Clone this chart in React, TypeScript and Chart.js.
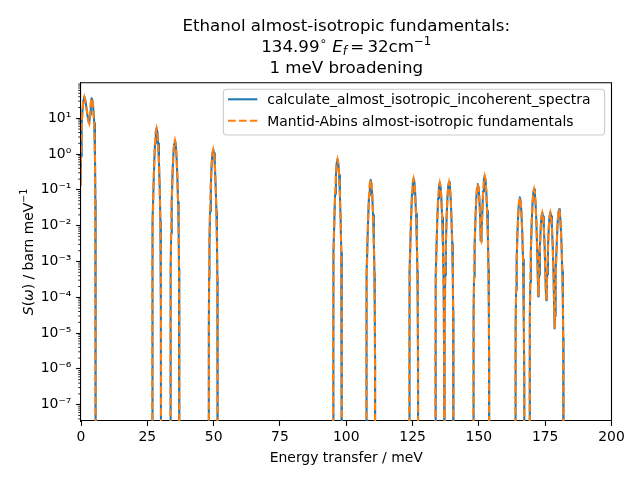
import React, { useEffect, useRef } from 'react';
import { Chart, registerables } from 'chart.js';

Chart.register(...registerables);

// values
const titleTop = 'Ethanol almost-isotropic fundamentals:';
const titleBottom = '1 meV broadening';
const legendLabels = [
  'calculate_almost_isotropic_incoherent_spectra',
  'Mantid-Abins almost-isotropic fundamentals',
];
const xTicks = [0, 25, 50, 75, 100, 125, 150, 175, 200];
const yTicks = [1e-7, 1e-6, 1e-5, 1e-4, 1e-3, 1e-2, 1e-1, 1e0, 1e1];
const yMinorMantissas = [2, 3, 4, 5, 6, 7, 8, 9];
const yMin = 3.5e-8;
const yMax = 98.6;

// energy transfer / meV (each line is one peak or group of peaks)
const energy = [
  -0.4, -0.4, -0.15, 0, 0.25, 0.55, 0.9, 1.25, 1.6, 2.0, 2.4, 2.8, 3.1, 3.4, 3.7, 4.0, 4.3, 4.6, 5.0, 5.27, 5.42, 5.5, 5.55,
  26.82, 26.85, 26.95, 27.08, 27.3, 27.6, 27.9, 28.2, 28.5, 28.8, 29.1, 29.4, 29.7, 29.92, 30.05, 30.15, 30.18,
  33.72, 33.75, 33.85, 33.98, 34.2, 34.5, 34.8, 35.1, 35.4, 35.7, 36.0, 36.3, 36.6, 36.82, 36.95, 37.05, 37.08,
  48.17, 48.2, 48.3, 48.43, 48.65, 48.95, 49.25, 49.55, 49.85, 50.15, 50.45, 50.75, 51.05, 51.27, 51.4, 51.5, 51.53,
  95.02, 95.05, 95.15, 95.28, 95.5, 95.8, 96.1, 96.4, 96.7, 97.0, 97.3, 97.6, 97.9, 98.12, 98.25, 98.35, 98.38,
  107.52, 107.55, 107.65, 107.78, 108.0, 108.3, 108.6, 108.9, 109.2, 109.5, 109.8, 110.1, 110.4, 110.62, 110.75, 110.85, 110.88,
  123.72, 123.75, 123.85, 123.98, 124.2, 124.5, 124.8, 125.1, 125.4, 125.7, 126.0, 126.3, 126.6, 126.82, 126.95, 127.05, 127.08,
  133.57, 133.6, 133.7, 133.83, 134.05, 134.35, 134.65, 134.95, 135.25, 135.55, 135.85, 136.15, 136.45, 136.67, 136.8, 136.9, 136.93,
  137.07, 137.1, 137.2, 137.33, 137.55, 137.85, 138.15, 138.45, 138.75, 139.05, 139.35, 139.65, 139.95, 140.17, 140.3, 140.4, 140.43,
  147.92, 147.95, 148.05, 148.18, 148.4, 148.7, 149.0, 149.3, 149.6, 149.9, 150.2, 150.5, 150.55, 150.8,
  150.9, 151.0, 151.25, 151.6, 151.9, 152.2, 152.5, 152.8, 153.1, 153.4, 153.62, 153.75, 153.85, 153.88,
  163.77, 163.8, 163.9, 164.03, 164.25, 164.55, 164.85, 165.15, 165.45, 165.75, 166.05, 166.35, 166.65, 166.87, 167.0, 167.1, 167.13,
  169.12, 169.15, 169.25, 169.38, 169.6, 169.9, 170.2, 170.5, 170.8, 171.1, 171.4, 171.7, 172.0, 172.22, 172.4, 172.55, 172.7, 173.0,
  173.3, 173.6, 173.9, 174.2, 174.5, 174.8, 175.1, 175.28, 175.42, 175.57, 175.75, 176.05, 176.35, 176.65, 176.95, 177.25, 177.55,
  177.85, 178.15, 178.37, 178.5, 178.6, 178.7, 178.83, 179.05, 179.35, 179.65, 179.95, 180.25, 180.55, 180.85, 181.15, 181.45,
  181.67, 181.8, 181.9, 181.93,
];

// S(w) / barn meV^-1, same order as energy
const sqw = [
  1e-12, 0.021, 0.13, 0.85, 7.2, 15.8, 30.2, 39.8, 33.1, 20.9, 12.6, 8.32, 7.24, 12.6, 26.3, 36.3, 31.6, 20.0, 7.24, 0.85, 0.05, 1.5e-3, 1e-12,
  1e-12, 5.25e-5, 1.32e-3, 1.32e-2, 9.82e-2, 0.56, 1.94, 4.09, 5.25, 4.09, 1.94, 0.56, 9.82e-2, 1.32e-2, 1.32e-3, 5.25e-5, 1e-12,
  1e-12, 2.46e-5, 6.17e-4, 6.17e-3, 4.59e-2, 0.262, 0.908, 1.914, 2.455, 1.914, 0.908, 0.262, 4.59e-2, 6.17e-3, 6.17e-4, 2.46e-5, 1e-12,
  1e-12, 1.35e-5, 3.39e-4, 3.39e-3, 2.52e-2, 0.144, 0.499, 1.052, 1.349, 1.052, 0.499, 0.144, 2.52e-2, 3.39e-3, 3.39e-4, 1.35e-5, 1e-12,
  1e-12, 7.16e-6, 1.8e-4, 1.8e-3, 1.34e-2, 7.64e-2, 0.265, 0.558, 0.716, 0.558, 0.265, 7.64e-2, 1.34e-2, 1.8e-3, 1.8e-4, 7.16e-6, 1e-12,
  1e-12, 1.9e-6, 4.79e-5, 4.79e-4, 3.56e-3, 2.03e-2, 7.04e-2, 0.1486, 0.1905, 0.1486, 7.04e-2, 2.03e-2, 3.56e-3, 4.79e-4, 4.79e-5, 1.9e-6, 1e-12,
  1e-12, 2.09e-6, 5.25e-5, 5.25e-4, 3.91e-3, 2.23e-2, 7.73e-2, 0.163, 0.209, 0.163, 7.73e-2, 2.23e-2, 3.91e-3, 5.25e-4, 5.25e-5, 2.09e-6, 1e-12,
  1e-12, 1.59e-6, 3.98e-5, 3.98e-4, 2.97e-3, 1.69e-2, 5.86e-2, 0.1236, 0.1585, 0.1236, 5.86e-2, 1.69e-2, 2.97e-3, 3.98e-4, 3.98e-5, 1.59e-6, 1e-12,
  1e-12, 1.66e-6, 4.17e-5, 4.17e-4, 3.11e-3, 1.77e-2, 6.14e-2, 0.1294, 0.166, 0.1294, 6.14e-2, 1.77e-2, 3.11e-3, 4.17e-4, 4.17e-5, 1.66e-6, 1e-12,
  1e-12, 1.45e-6, 3.63e-5, 3.63e-4, 2.7e-3, 1.54e-2, 5.34e-2, 0.1127, 0.1445, 0.1127, 5.34e-2, 1.54e-2, 1.21e-2, 3.79e-3,
  3.66e-3, 5.24e-3, 2.04e-2, 9.08e-2, 0.1914, 0.2455, 0.1914, 9.08e-2, 2.62e-2, 4.59e-3, 6.17e-4, 6.17e-5, 2.46e-6, 1e-12,
  1e-12, 6.17e-7, 1.55e-5, 1.55e-4, 1.16e-3, 6.58e-3, 2.28e-2, 4.81e-2, 6.17e-2, 4.81e-2, 2.28e-2, 6.58e-3, 1.16e-3, 1.55e-4, 1.55e-5, 6.17e-7, 1e-12,
  1e-12, 1.05e-6, 2.63e-5, 2.63e-4, 1.96e-3, 1.12e-2, 3.87e-2, 8.16e-2, 0.1047, 8.16e-2, 3.87e-2, 1.12e-2, 1.96e-3, 3.5e-4, 1.05e-4, 1.6e-4, 4.28e-4, 2.44e-3,
  8.47e-3, 1.79e-2, 2.29e-2, 1.79e-2, 8.47e-3, 2.44e-3, 4.28e-4, 1.3e-4, 8.3e-5, 1.3e-4, 4.38e-4, 2.5e-3, 8.67e-3, 1.83e-2, 2.34e-2, 1.83e-2, 8.67e-3,
  2.5e-3, 4.38e-4, 5.9e-5, 2.5e-5, 1.35e-5, 3.0e-5, 7.24e-5, 5.39e-4, 3.08e-3, 1.07e-2, 2.25e-2, 2.88e-2, 2.25e-2, 1.07e-2, 3.08e-3, 5.39e-4,
  7.24e-5, 7.24e-6, 2.88e-7, 1e-12,
];

const FAMILY = '"DejaVu Sans", sans-serif';
const BLUE = '#1f77b4';
const ORANGE = '#ff7f0e';
const DASH = [7.7, 3.3];

type Run = { t: string; size: number; italic?: boolean; dy?: number };

const fontOf = (r: Run) => `${r.italic ? 'italic ' : ''}${r.size}px ${FAMILY}`;

function runsWidth(ctx: CanvasRenderingContext2D, runs: Run[]) {
  let w = 0;
  for (const r of runs) {
    ctx.font = fontOf(r);
    w += ctx.measureText(r.t).width;
  }
  return w;
}

function drawRuns(ctx: CanvasRenderingContext2D, runs: Run[], cx: number, baseline: number) {
  let x = cx - runsWidth(ctx, runs) / 2;
  ctx.textAlign = 'left';
  ctx.textBaseline = 'alphabetic';
  for (const r of runs) {
    ctx.font = fontOf(r);
    ctx.fillText(r.t, x, baseline + (r.dy || 0));
    x += ctx.measureText(r.t).width;
  }
}

const SUP: Record<string, string> = {
  '-': '\u207b', '0': '\u2070', '1': '\u00b9', '2': '\u00b2', '3': '\u00b3',
  '4': '\u2074', '5': '\u2075', '6': '\u2076', '7': '\u2077', '8': '\u2078', '9': '\u2079',
};
const powerLabel = (v: number) =>
  '10' + String(Math.round(Math.log10(v))).split('').map(c => SUP[c]).join('');

const overlay = {
  id: 'overlay',
  afterDraw(chart: Chart) {
    const { ctx, chartArea: a } = chart;
    const yScale = chart.scales.y;
    ctx.save();
    ctx.fillStyle = '#000';
    ctx.strokeStyle = '#000';

    // top and right spines
    ctx.lineWidth = 1.1;
    ctx.beginPath();
    ctx.moveTo(a.left, a.top);
    ctx.lineTo(a.right, a.top);
    ctx.lineTo(a.right, a.bottom);
    ctx.stroke();

    // minor log ticks
    ctx.lineWidth = 0.83;
    for (let n = -8; n <= 1; n++) {
      for (const m of yMinorMantissas) {
        const v = m * Math.pow(10, n);
        if (v < yMin || v > yMax) continue;
        const y = yScale.getPixelForValue(v);
        ctx.beginPath();
        ctx.moveTo(a.left - 2.8, y);
        ctx.lineTo(a.left, y);
        ctx.stroke();
      }
    }

    const cx = (a.left + a.right) / 2;

    // title
    drawRuns(ctx, [{ t: titleTop, size: 16.67 }], cx, 30.7);
    drawRuns(ctx, [
      { t: '134.99', size: 16.67 },
      { t: '\u2218', size: 11.7, dy: -7.5 },
      { t: ' ', size: 16.67 },
      { t: 'E', size: 16.67, italic: true },
      { t: 'f', size: 11.7, italic: true, dy: 3 },
      { t: '\u2009=\u2009', size: 16.67 },
      { t: '32cm', size: 16.67 },
      { t: '\u22121', size: 11.7, dy: -7.5 },
    ], cx, 52.3);
    drawRuns(ctx, [{ t: titleBottom, size: 16.67 }], cx, 73.3);

    // axis titles
    drawRuns(ctx, [{ t: 'Energy transfer / meV', size: 13.9 }], cx, 461.5);
    ctx.save();
    ctx.translate(32.5, (a.top + a.bottom) / 2);
    ctx.rotate(-Math.PI / 2);
    drawRuns(ctx, [
      { t: 'S', size: 13.9, italic: true },
      { t: '(', size: 13.9 },
      { t: '\u03c9', size: 13.9, italic: true },
      { t: ') / barn meV', size: 13.9 },
      { t: '\u22121', size: 9.7, dy: -5.5 },
    ], 0, 0);
    ctx.restore();

    // legend
    const bx = 223.3, by = 89.3, bw = 604.6 - 223.3, bh = 135 - 89.3;
    ctx.beginPath();
    ctx.roundRect(bx, by, bw, bh, 3.5);
    ctx.fillStyle = 'rgba(255,255,255,0.8)';
    ctx.fill();
    ctx.strokeStyle = '#cccccc';
    ctx.lineWidth = 1.1;
    ctx.stroke();

    const rows = [99.3, 120.7];
    ctx.lineWidth = 2.08;
    ctx.strokeStyle = BLUE;
    ctx.beginPath();
    ctx.moveTo(228, rows[0]);
    ctx.lineTo(257.3, rows[0]);
    ctx.stroke();
    ctx.strokeStyle = ORANGE;
    ctx.setLineDash(DASH);
    ctx.beginPath();
    ctx.moveTo(228, rows[1]);
    ctx.lineTo(257.3, rows[1]);
    ctx.stroke();
    ctx.setLineDash([]);

    ctx.fillStyle = '#000';
    ctx.font = `13.9px ${FAMILY}`;
    ctx.textAlign = 'left';
    ctx.textBaseline = 'alphabetic';
    legendLabels.forEach((label, i) => ctx.fillText(label, 267.3, rows[i] + 4.8));

    ctx.restore();
  },
};

export default function App() {
  const canvasRef = useRef<HTMLCanvasElement>(null);

  useEffect(() => {
    document.body.style.margin = '0';
    if (!canvasRef.current) return;

    const points = energy.map((x, i) => ({ x, y: sqw[i] }));
    const tickFont = { family: FAMILY, size: 13.9 };

    const chart = new Chart(canvasRef.current, {
      type: 'line',
      data: {
        datasets: [
          {
            label: legendLabels[1],
            data: points,
            borderColor: ORANGE,
            borderWidth: 2.08,
            borderDash: DASH,
            pointRadius: 0,
            tension: 0,
            fill: false,
            clip: 0,
          },
          {
            label: legendLabels[0],
            data: points,
            borderColor: BLUE,
            borderWidth: 2.08,
            borderJoinStyle: 'round',
            pointRadius: 0,
            tension: 0,
            fill: false,
            clip: 0,
          },
        ],
      },
      options: {
        responsive: false,
        animation: false,
        events: [],
        layout: { padding: { top: 82.7, right: 28.5, left: 0, bottom: 0 } },
        plugins: {
          legend: { display: false },
          title: { display: false },
          tooltip: { enabled: false },
        },
        scales: {
          x: {
            type: 'linear',
            min: 0,
            max: 200,
            afterBuildTicks: (s: any) => { s.ticks = xTicks.map(value => ({ value })); },
            afterFit: (s: any) => { s.height = 59; },
            ticks: { font: tickFont, color: '#000', padding: 3.5, maxRotation: 0, autoSkip: false },
            grid: { drawOnChartArea: false, drawTicks: true, tickLength: 4.86, tickColor: '#000', tickWidth: 1.1 },
            border: { display: true, color: '#000', width: 1.1 },
          },
          y: {
            type: 'logarithmic',
            min: yMin,
            max: yMax,
            afterBuildTicks: (s: any) => { s.ticks = yTicks.map(value => ({ value })); },
            afterFit: (s: any) => { s.width = 81; },
            ticks: {
              font: tickFont,
              color: '#000',
              padding: 4.86,
              autoSkip: false,
              callback: (v: any) => powerLabel(Number(v)),
            },
            grid: { drawOnChartArea: false, drawTicks: true, tickLength: 4.86, tickColor: '#000', tickWidth: 1.1 },
            border: { display: true, color: '#000', width: 1.1 },
          },
        },
      },
      plugins: [overlay],
    });

    return () => chart.destroy();
  }, []);

  return (
    <div style={{ width: 640, height: 480, background: '#fff' }}>
      <canvas ref={canvasRef} width={640} height={480} style={{ display: 'block' }} />
    </div>
  );
}
